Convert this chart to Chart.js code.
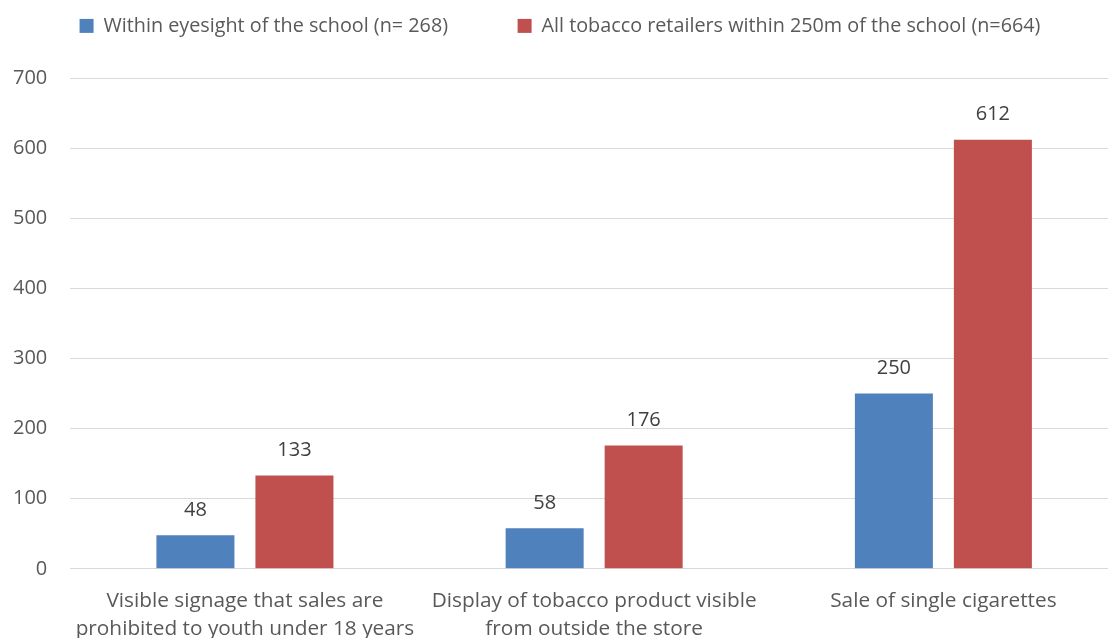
<!DOCTYPE html>
<html>
<head>
<meta charset="utf-8">
<script src="https://cdn.jsdelivr.net/npm/chart.js@4.4.1/dist/chart.umd.min.js"></script>
<style>
    html, body { margin: 0; padding: 0; background: #fff; overflow: hidden; }
    #wrap { width: 1118px; height: 638px; position: relative; }
</style>
</head>
<body>
<div id="wrap"><canvas id="chart"></canvas></div>
<script>
/* Tobacco retailer observations near schools */

const CATEGORIES = [
    ['Visible signage that sales are', 'prohibited to youth under 18 years'],
    ['Display of tobacco product visible', 'from outside the store'],
    'Sale of single cigarettes',
];
const EYESIGHT = [48, 58, 250];
const WITHIN_250M = [133, 176, 612];
const SERIES_LABELS = [
    'Within eyesight of the school (n= 268)',
    'All tobacco retailers within 250m of the school (n=664)',
];

const FONT = '"Open Sans", "Segoe UI", sans-serif';
const TEXT = '#595959';

// Value labels above each bar
const barLabels = {
    id: 'barLabels',
    afterDatasetsDraw(chart) {
        const ctx = chart.ctx;
        ctx.save();
        ctx.font = '20px ' + FONT;
        ctx.fillStyle = '#404040';
        ctx.textAlign = 'center';
        ctx.textBaseline = 'middle';
        chart.data.datasets.forEach((ds, i) => {
            chart.getDatasetMeta(i).data.forEach((bar, j) => {
                ctx.fillText(ds.data[j], bar.x, bar.y - 25);
            });
        });
        ctx.restore();
    },
};

// Legend: fixed height, row nudged to sit where the original does
const legendFit = {
    id: 'legendFit',
    beforeInit(chart) {
        const legend = chart.legend;
        const fit = legend.fit;
        legend.fit = function () {
            fit.call(this);
            this.height = 92;
            if (this.lineWidths && this.lineWidths.length) this.lineWidths[0] -= 12;
        };
    },
};

new Chart(document.getElementById('chart'), {
    type: 'bar',
    data: {
        labels: CATEGORIES,
        datasets: [
            // trailing em spaces widen the gap between the two legend items
            { label: SERIES_LABELS[0] + '\u2003\u2003', data: EYESIGHT, backgroundColor: '#4f81bd' },
            { label: SERIES_LABELS[1], data: WITHIN_250M, backgroundColor: '#c0504d' },
        ],
    },
    options: {
        responsive: true,
        maintainAspectRatio: false,
        animation: false,
        barPercentage: 0.788,
        categoryPercentage: 0.567,
        layout: { padding: { top: -14, left: -10, right: 0, bottom: -15 } },
        scales: {
            x: {
                grid: { display: false },
                border: { display: false },
                ticks: {
                    color: TEXT,
                    font: { family: FONT, size: 20.8, lineHeight: 1.35 },
                    padding: 10,
                    maxRotation: 0,
                },
            },
            y: {
                min: 0,
                max: 700,
                ticks: { stepSize: 100, color: TEXT, font: { family: FONT, size: 20 }, padding: 23 },
                grid: { color: '#d9d9d9', drawTicks: false },
                border: { display: false },
            },
        },
        plugins: {
            legend: {
                position: 'top',
                labels: {
                    color: TEXT,
                    font: { family: FONT, size: 19.8 },
                    boxWidth: 14,
                    boxHeight: 14,
                    padding: 30,
                },
            },
            tooltip: { enabled: false },
        },
    },
    plugins: [barLabels, legendFit],
});
</script>
</body>
</html>
